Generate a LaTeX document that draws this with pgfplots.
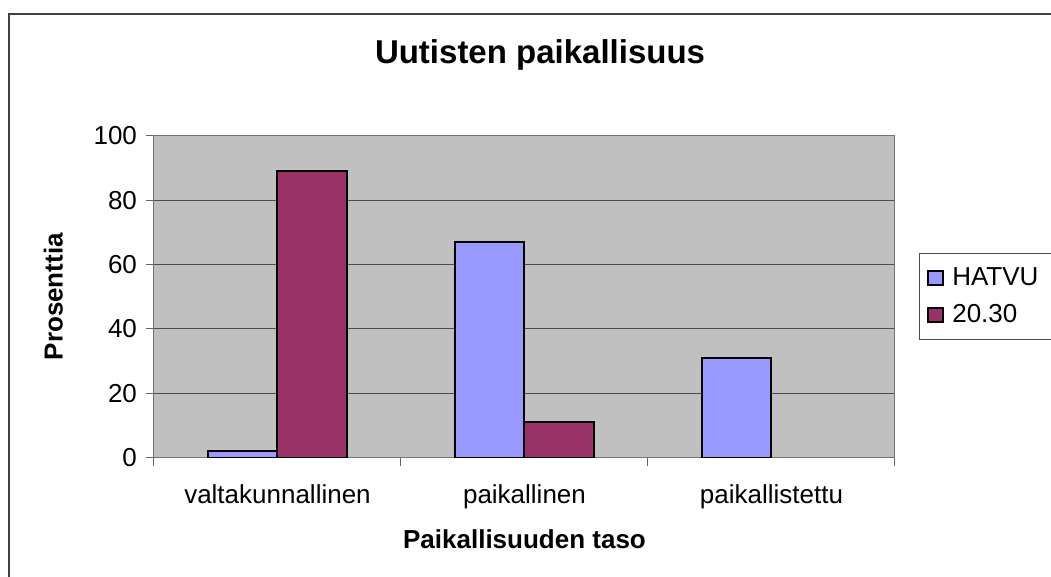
\documentclass[border=0pt]{standalone}
\usepackage{fontspec}
\setmainfont{Liberation Sans}
\usepackage{pgfplots}
\pgfplotsset{compat=1.18}

\definecolor{plotgray}{HTML}{C0C0C0}
\definecolor{hatvu}{HTML}{9999FF}
\definecolor{klo2030}{HTML}{993366}

\pgfplotsset{sqlegend/.style={legend image code/.code={%
  \draw[##1, line width=0.8pt] (0pt,-3.5pt) rectangle (7.5pt,3.5pt);
  \path[draw=none, fill=none] (0pt,0pt) -- (10pt,0pt);}}}

\begin{document}
\begin{tikzpicture}
% page = 1051 x 577 px, 1 px = 0.5pt, origin at lower left of plot area (px 154, 457.7)
\path[use as bounding box] (-77pt,-59.65pt) rectangle (448.5pt,228.85pt);
\draw[black!75, line width=1pt] (-72.5pt,-70pt) -- (-72.5pt,221.85pt) -- (460pt,221.85pt);
\begin{axis}[
  at={(0,0)}, anchor=south west,
  scale only axis, width=370.5pt, height=161pt,
  ybar=0pt, bar width=0.283,
  xmin=-0.5, xmax=2.5, ymin=0, ymax=100,
  xtick={-0.5,0.5,1.5,2.5}, xticklabels={,,,},
  extra x ticks={0,1,2},
  extra x tick labels={valtakunnallinen,paikallinen,paikallistettu},
  extra x tick style={major tick length=0pt, xticklabel style={yshift=-10pt}},
  ytick={0,20,...,100},
  tick pos=left,
  tick align=outside, major tick length=4pt,
  tick style={black!60, line width=0.5pt},
  axis line style={black!55, line width=0.5pt},
  ymajorgrids, grid style={black!70, line width=0.5pt},
  axis background/.style={fill=plotgray},
  /pgf/number format/assume math mode=true,
  ticklabel style={font=\fontsize{13}{15}\selectfont},
  yticklabel style={xshift=-1pt},
  title={Uutisten paikallisuus},
  every axis title shift=0pt,
  title style={at={(0.521,1.225)}, anchor=base, font=\bfseries\fontsize{16.5}{19}\selectfont},
  xlabel={Paikallisuuden taso},
  xlabel style={at={(0.5,-0.281)}, anchor=base, font=\bfseries\fontsize{13}{15}\selectfont},
  ylabel={Prosenttia},
  ylabel style={at={(-0.136,0.5)}, anchor=center, font=\bfseries\fontsize{13}{15}\selectfont},
  legend style={at={(1.0324,0.6357)}, anchor=north west, draw=black!70, line width=0.5pt,
    fill=white, font=\fontsize{13}{15}\selectfont, row sep=4pt,
    inner xsep=4pt, inner ysep=5pt, cells={anchor=west}},
  legend cell align=left,
]
\addplot[fill=hatvu, draw=black, line width=1pt, sqlegend]
  coordinates {(0,2) (1,67) (2,31)};
% third category is 0 for 20.30 -> no visible bar
\addplot[fill=klo2030, draw=black, line width=1pt, sqlegend]
  coordinates {(0,89) (1,11)};
\legend{HATVU\rule{8pt}{0pt},20.30}
\end{axis}
\end{tikzpicture}
\end{document}
